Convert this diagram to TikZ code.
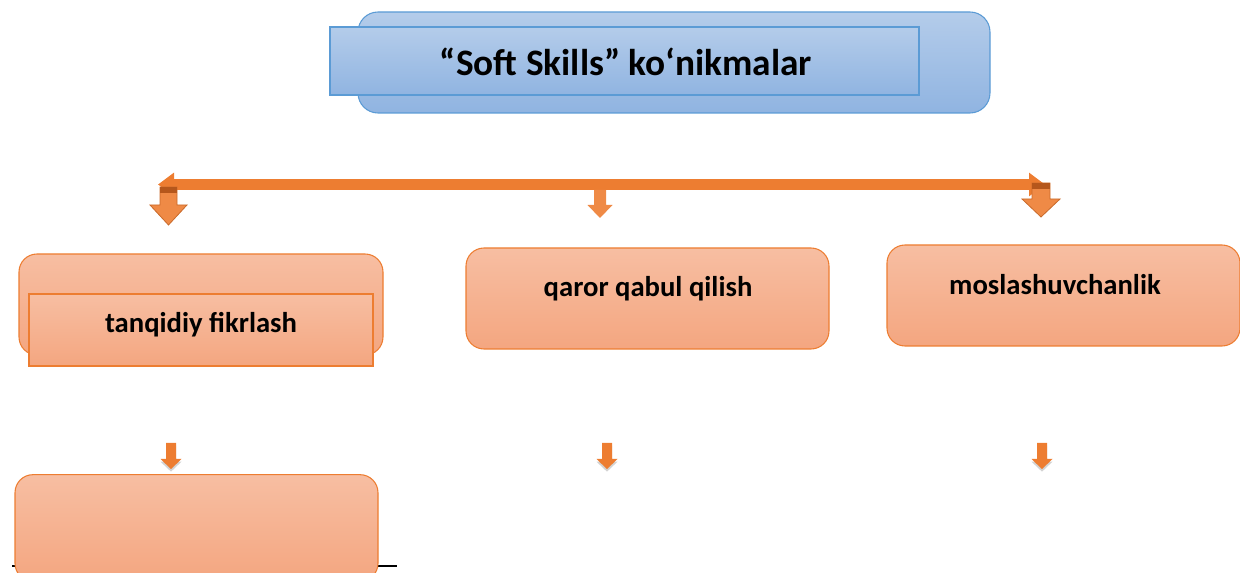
\documentclass[tikz,border=0pt]{standalone}
\usepackage{fontspec}
\setmainfont{Carlito}
\usetikzlibrary{arrows.meta,shadows}

\definecolor{skillorange}{HTML}{ED7D31}
\definecolor{skilldark}{HTML}{B5571C}
\definecolor{peachtop}{HTML}{F7BEA2}
\definecolor{peachbot}{HTML}{F4A680}
\definecolor{bluetop}{HTML}{B4CCEA}
\definecolor{bluebot}{HTML}{90B4E1}
\definecolor{blueline}{HTML}{5B9BD5}

\tikzstyle{headbox} = [draw=blueline, line width=0.8pt, top color=bluetop, bottom color=bluebot, inner sep=0pt]
\tikzstyle{skill} = [draw=skillorange, line width=0.8pt, top color=peachtop, bottom color=peachbot, rounded corners=13.5pt, inner sep=0pt]
\tikzstyle{skillbar} = [draw=skillorange, line width=0.8pt, top color=peachtop, bottom color=peachbot, inner sep=0pt]
\tikzstyle{lbl} = [font=\fontsize{21.5}{25}\selectfont\bfseries, inner sep=0pt]
\tikzstyle{bar} = [draw=skillorange!85!black, line width=0.6pt, fill=skillorange!90!white]

% block arrow pointing down: x, top, tip, shaft half width, head half width, head start
\newcommand{\blockdown}[7][]{%
  \path[#1] ({#2-#5},#3) -- ({#2+#5},#3) -- ({#2+#5},#7) -- ({#2+#6},#7)
    -- (#2,#4) -- ({#2-#6},#7) -- ({#2-#5},#7) -- cycle;}

\begin{document}
\begin{tikzpicture}[x=0.75pt, y=-0.75pt]
	\useasboundingbox (0,0) rectangle (1240,573);
	\clip (0,0) rectangle (1240,573);
	% title
	\node[headbox, rounded corners=15pt, minimum width=474pt, minimum height=75.75pt] (titleback) at (674,62.5) {};
	\node[headbox, minimum width=441.75pt, minimum height=51pt] (title) at (624.5,61) {};
	\node[font=\fontsize{28}{33}\selectfont\bfseries, inner sep=0pt] (titletext) at (626,62) {“Soft Skills” ko‘nikmalar};
	% main bar
	\coordinate (barleft) at (158,184.5);
	\coordinate (barright) at (1045,184.5);
	\draw[skillorange, line width=8.25pt,
	      {Triangle[length=12pt,width=17pt]}-{Triangle[length=12pt,width=17pt]}] (barleft) -- (barright);
	% down arrows from the bar
	\blockdown[bar]{168.5}{187}{225}{8.5}{18.5}{205}
	\fill[skilldark] (160,187) rectangle (177,193);
	\blockdown[fill=skillorange!90!white]{600}{190}{218}{6}{12.5}{205}
	\blockdown[bar]{1041}{183}{217}{9}{19}{199}
	\fill[skilldark] (1032,183) rectangle (1050,189);
	% skills
	\node[skill, minimum width=273pt, minimum height=75.75pt] (critback) at (201,304.5) {};
	\node[skillbar, minimum width=258pt, minimum height=54pt] (crit) at (201,330) {};
	\node[lbl] (crittext) at (201,325) {tanqidiy fikrlash};
	\node[skill, minimum width=272.25pt, minimum height=75.75pt] (decide) at (647.5,298.5) {};
	\node[lbl] (decidetext) at (648,289) {qaror qabul qilish};
	\node[skill, minimum width=264.75pt, minimum height=75.75pt] (adapt) at (1063.5,295.5) {};
	\node[lbl] (adapttext) at (1055,285) {moslashuvchanlik};
	% small arrows
	\foreach \xa in {171,607,1042}
	    \blockdown[fill=skillorange, drop shadow={opacity=0.35, shadow xshift=0pt, shadow yshift=-2pt}]{\xa}{443}{469}{5}{10.5}{459};
	% lower box
	\draw[black, line width=1.5pt] (12,566) -- (397,566);
	\node[skill, minimum width=272.25pt, minimum height=80pt] (nextbox) at (196.5,528) {};
\end{tikzpicture}
\end{document}
